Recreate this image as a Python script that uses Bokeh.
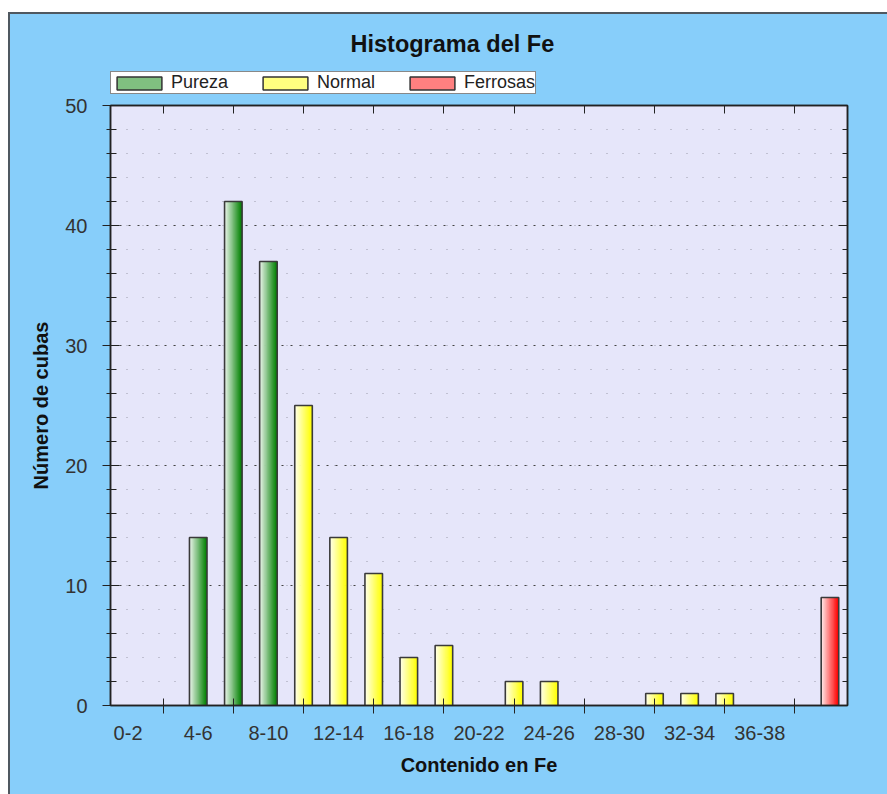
from bokeh.plotting import figure
from bokeh.layouts import column
from bokeh.models import (Range1d, LinearAxis, FixedTicker, SingleIntervalTicker,
                          Grid, Legend, LegendItem, ColumnDataSource)
from bokeh.embed import file_html
from bokeh.resources import INLINE

# ---------------- data ----------------
categorias = ["0-2", "2-4", "4-6", "6-8", "8-10", "10-12", "12-14", "14-16", "16-18",
              "18-20", "20-22", "22-24", "24-26", "26-28", "28-30", "30-32", "32-34",
              "34-36", "36-38", "38-40", "40-42"]
cubas = [0, 0, 14, 42, 37, 25, 14, 11, 4, 5, 0, 2, 2, 0, 0, 1, 1, 1, 0, 0, 9]
grupo = ["Pureza"] * 5 + ["Normal"] * 15 + ["Ferrosas"]
series = ["Pureza", "Normal", "Ferrosas"]
etiquetas_x = ["0-2", "4-6", "8-10", "12-14", "16-18", "20-22", "24-26", "28-30", "32-34", "36-38"]

# ---------------- styles ----------------
base_rgb = {"Pureza": (0, 128, 0), "Normal": (255, 255, 0), "Ferrosas": (255, 0, 0)}
FONT = "Liberation Sans"
SKY = "#87CEFA"
BAR_W = 0.5
N_SLICES = 16


def blend(rgb, t):
    return "#%02x%02x%02x" % tuple(int(round(255 + (c - 255) * t)) for c in rgb)


# gradient slices built from the data
sl = dict(l=[], r=[], t=[], b=[], c=[])
bars = dict(l=[], r=[], t=[], b=[])
for i, (v, g) in enumerate(zip(cubas, grupo)):
    if v <= 0:
        continue
    x0 = i - BAR_W / 2
    x1 = i + BAR_W / 2
    dw = BAR_W / N_SLICES
    for k in range(N_SLICES):
        left = x0 + k * dw
        right = min(x0 + (k + 1.6) * dw, x1)
        tt = 0.10 + 0.90 * k / (N_SLICES - 1)
        sl["l"].append(left); sl["r"].append(right)
        sl["t"].append(v); sl["b"].append(0)
        sl["c"].append(blend(base_rgb[g], tt))
    bars["l"].append(x0); bars["r"].append(x1)
    bars["t"].append(v); bars["b"].append(0)

# ---------------- header (title + legend) ----------------
ph = figure(width=877, height=81, x_range=Range1d(0, 1), y_range=Range1d(0, 1),
            x_axis_type=None, y_axis_type=None, output_backend="svg", toolbar_location=None,
            min_border_left=0, min_border_right=0, min_border_top=44, min_border_bottom=0,
            background_fill_alpha=0, border_fill_alpha=0, outline_line_color=None)
ph.xgrid.visible = False
ph.ygrid.visible = False
ph.title.text = "Histograma del Fe"
ph.title.text_font = FONT
ph.title.text_font_size = "23.5px"
ph.title.text_font_style = "bold"
ph.title.text_color = "#111111"
ph.title.align = "left"
ph.title.offset = 240
ph.title.standoff = 4

items = []
for g in series:
    r = ph.quad(left=[float("nan")], right=[float("nan")], top=[float("nan")],
                bottom=[float("nan")], fill_color=blend(base_rgb[g], 0.5),
                line_color="#333333", line_width=1.5)
    items.append(LegendItem(label=g, renderers=[r]))
legend = Legend(items=items, orientation="horizontal", location=(0, 1),
                glyph_width=56, glyph_height=16, label_standoff=4, spacing=29,
                padding=0, margin=0,
                label_text_font=FONT, label_text_font_size="18px", label_text_color="#222222",
                border_line_color="#111111", border_line_width=1.5,
                background_fill_color="white", background_fill_alpha=1.0)
ph.add_layout(legend)

# ---------------- main chart ----------------
p = figure(frame_width=737, frame_height=600,
           min_border_left=100, min_border_right=40, min_border_top=10, min_border_bottom=89,
           x_range=Range1d(-0.5, len(categorias) - 0.5), y_range=Range1d(0, 50),
           x_axis_type=None, y_axis_type=None,
           output_backend="svg", toolbar_location=None,
           background_fill_color="#E6E6FA", border_fill_color=SKY,
           outline_line_color="#222222", outline_line_width=1.5)

# y axes
yticker = SingleIntervalTicker(interval=10, num_minor_ticks=5)
yaxis = LinearAxis(ticker=yticker, axis_label="Número de cubas",
                   axis_label_text_font=FONT, axis_label_text_font_size="20px",
                   axis_label_text_font_style="bold", axis_label_text_color="#111111",
                   axis_label_standoff=10,
                   major_label_text_font=FONT, major_label_text_font_size="20px",
                   major_label_text_color="#333333", major_label_standoff=15,
                   axis_line_color="#222222", axis_line_width=1.5,
                   major_tick_in=9, major_tick_out=8, major_tick_line_color="#222222",
                   minor_tick_in=6, minor_tick_out=4, minor_tick_line_color="#222222")
p.add_layout(yaxis, "left")
yaxis_r = LinearAxis(ticker=yticker, major_label_text_font_size="0px", major_label_standoff=0,
                     axis_line_color="#222222", axis_line_width=1.5,
                     major_tick_in=9, major_tick_out=0, minor_tick_in=5, minor_tick_out=0,
                     major_tick_line_color="#222222", minor_tick_line_color="#222222")
p.add_layout(yaxis_r, "right")

# x axes
x_ticks = [categorias.index(e) for e in etiquetas_x]
x_minor = [t + 1 for t in x_ticks]
xticker = FixedTicker(ticks=x_ticks, minor_ticks=x_minor)
xaxis = LinearAxis(ticker=xticker, axis_label="Contenido en Fe",
                   major_label_overrides={t: categorias[t] for t in x_ticks},
                   axis_label_text_font=FONT, axis_label_text_font_size="20px",
                   axis_label_text_font_style="bold", axis_label_text_color="#111111",
                   axis_label_standoff=11,
                   major_label_text_font=FONT, major_label_text_font_size="20px",
                   major_label_text_color="#333333", major_label_standoff=12,
                   axis_line_color="#222222", axis_line_width=1.5,
                   major_tick_in=0, major_tick_out=0,
                   minor_tick_in=7, minor_tick_out=8, minor_tick_line_color="#222222")
p.add_layout(xaxis, "below")
xaxis_t = LinearAxis(ticker=FixedTicker(ticks=[], minor_ticks=x_minor),
                     major_label_text_font_size="0px", major_label_standoff=0,
                     axis_line_color="#222222", axis_line_width=1.5,
                     major_tick_in=0, major_tick_out=0,
                     minor_tick_in=8, minor_tick_out=0, minor_tick_line_color="#222222")
p.add_layout(xaxis_t, "above")

# grid
grid = Grid(dimension=1, ticker=yticker,
            grid_line_color="#444444", grid_line_dash="2 7", grid_line_width=1,
            minor_grid_line_color="#9a9aaa", minor_grid_line_dash="1 15",
            minor_grid_line_width=1)
p.add_layout(grid)

# bars with gradient
p.quad(left="l", right="r", top="t", bottom="b", source=ColumnDataSource(sl),
       fill_color="c", line_color=None)
p.quad(left="l", right="r", top="t", bottom="b", source=ColumnDataSource(bars),
       fill_color=None, line_color="#3a3a3a", line_width=1.6)

layout = column(ph, p, spacing=0,
                styles={"margin-left": "8px", "margin-top": "12px", "background-color": SKY,
                        "border-top": "2px solid #4f5860", "border-left": "2px solid #4f5860"})

open("out.html", "w").write(file_html(layout, INLINE))
